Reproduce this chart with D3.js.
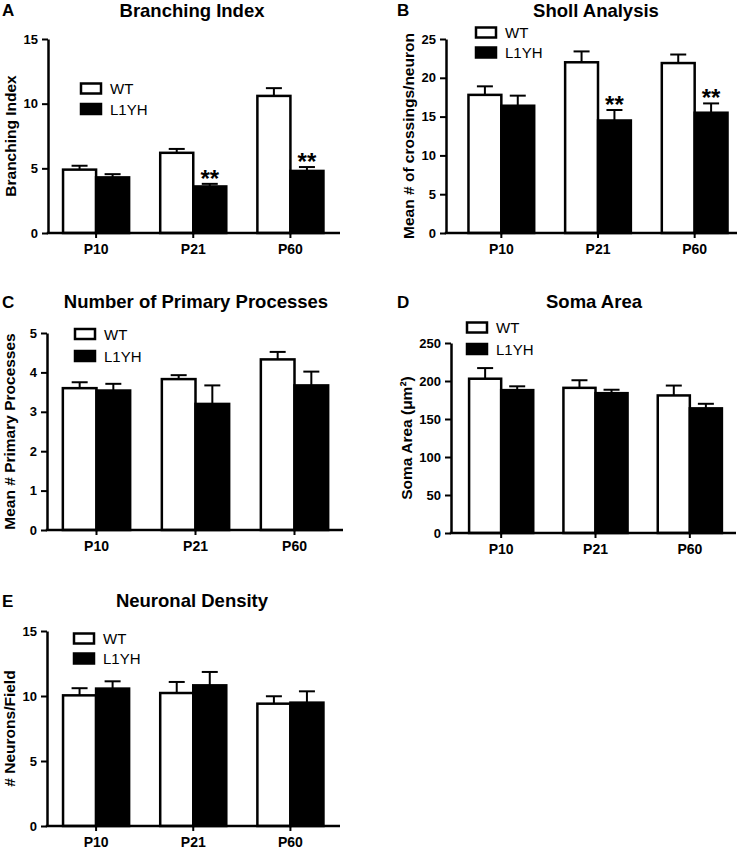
<!DOCTYPE html>
<html>
<head>
<meta charset="utf-8">
<script src="https://cdn.jsdelivr.net/npm/d3@7"></script>
<style>
body { margin: 0; background: #fff; }
text { font-family: "Liberation Sans", Arial, sans-serif; fill: #000; }
</style>
</head>
<body>
<div id="viz"></div>
<script>
// Data.
var ages = ["P10", "P21", "P60"];
var groups = ["WT", "L1YH"];

var branchWT = [4.9, 6.2, 10.6];
var branchWTErr = [0.3, 0.3, 0.6];
var branchYH = [4.3, 3.6, 4.8];
var branchYHErr = [0.25, 0.2, 0.3];
var branchStars = ["", "**", "**"];

var shollWT = [17.8, 22.0, 21.9];
var shollWTErr = [1.1, 1.4, 1.1];
var shollYH = [16.4, 14.5, 15.5];
var shollYHErr = [1.3, 1.35, 1.2];
var shollStars = ["", "**", "**"];

var primWT = [3.6, 3.83, 4.33];
var primWTErr = [0.15, 0.1, 0.19];
var primYH = [3.54, 3.2, 3.67];
var primYHErr = [0.17, 0.47, 0.35];

var somaWT = [203, 191, 181];
var somaWTErr = [14, 10, 13];
var somaYH = [188, 184, 164];
var somaYHErr = [5, 4.5, 6];

var densWT = [10.05, 10.23, 9.41];
var densWTErr = [0.55, 0.85, 0.57];
var densYH = [10.57, 10.82, 9.49];
var densYHErr = [0.56, 1.03, 0.87];

// Panel layout.
var panels = [
	{letter: "A", title: "Branching Index", ylabel: "Branching Index",
	 wt: branchWT, wtErr: branchWTErr, yh: branchYH, yhErr: branchYHErr, stars: branchStars,
	 max: 15, step: 5, ax: 48, axEnd: 340, band: [47.5, 339], top: 39, bottom: 233,
	 labelX: 16, titleX: 192, titleY: 17, letterX: 2, letterY: 16, legX: 81, legY: 88.5, legGap: 20.5},
	{letter: "B", title: "Sholl Analysis", ylabel: "Mean # of crossings/neuron",
	 wt: shollWT, wtErr: shollWTErr, yh: shollYH, yhErr: shollYHErr, stars: shollStars,
	 max: 25, step: 5, ax: 446, axEnd: 737, band: [453, 743], top: 39, bottom: 233,
	 labelX: 414, titleX: 596, titleY: 17, letterX: 397, letterY: 16, legX: 476, legY: 32.5, legGap: 20},
	{letter: "C", title: "Number of Primary Processes", ylabel: "Mean # Primary Processes",
	 wt: primWT, wtErr: primWTErr, yh: primYH, yhErr: primYHErr, stars: null,
	 max: 5, step: 1, ax: 47, axEnd: 343, band: [47, 344], top: 333, bottom: 530,
	 labelX: 15, titleX: 196, titleY: 308, letterX: 2, letterY: 308, legX: 75, legY: 334, legGap: 22},
	{letter: "D", title: "Soma Area", ylabel: "Soma Area (\u03bcm\u00b2)",
	 wt: somaWT, wtErr: somaWTErr, yh: somaYH, yhErr: somaYHErr, stars: null,
	 max: 250, step: 50, ax: 451, axEnd: 736, band: [454, 737], top: 343, bottom: 533,
	 labelX: 412, titleX: 594, titleY: 308, letterX: 397, letterY: 308, legX: 467, legY: 327.5, legGap: 21.5},
	{letter: "E", title: "Neuronal Density", ylabel: "# Neurons/Field",
	 wt: densWT, wtErr: densWTErr, yh: densYH, yhErr: densYHErr, stars: null,
	 max: 15, step: 5, ax: 47, axEnd: 340, band: [47.5, 339], top: 631, bottom: 826,
	 labelX: 15, titleX: 192, titleY: 607, letterX: 2, letterY: 607, legX: 74, legY: 638.5, legGap: 20}
];

var svg = d3.select("#viz")
	.append("svg")
	.attr("width", 746)
	.attr("height", 853);

panels.forEach(function (p) {
	var g = svg.append("g");

	var y = d3.scaleLinear().domain([0, p.max]).range([p.bottom, p.top]);
	var x = d3.scaleBand().domain(ages).range(p.band).paddingInner(0.32).paddingOuter(0.16);
	var xs = d3.scaleBand().domain(groups).range([0, x.bandwidth()]);

	var rows = [];
	ages.forEach(function (a, i) {
		rows.push({age: a, grp: "WT", v: p.wt[i], e: p.wtErr[i], star: ""});
		rows.push({age: a, grp: "L1YH", v: p.yh[i], e: p.yhErr[i], star: p.stars ? p.stars[i] : ""});
	});

	// Bars.
	g.selectAll("rect.bar").data(rows).enter().append("rect")
		.attr("x", function (d) { return x(d.age) + xs(d.grp); })
		.attr("y", function (d) { return y(d.v); })
		.attr("width", xs.bandwidth())
		.attr("height", function (d) { return p.bottom - y(d.v); })
		.style("fill", function (d) { return d.grp == "WT" ? "#fff" : "#000"; })
		.style("stroke", "#000")
		.style("stroke-width", 2.5);

	// Error bars (upper only).
	rows.forEach(function (d) {
		var cx = x(d.age) + xs(d.grp) + xs.bandwidth() / 2;
		g.append("line")
			.attr("x1", cx).attr("x2", cx)
			.attr("y1", y(d.v)).attr("y2", y(d.v + d.e))
			.style("stroke", "#000").style("stroke-width", 2);
		g.append("line")
			.attr("x1", cx - 8).attr("x2", cx + 8)
			.attr("y1", y(d.v + d.e)).attr("y2", y(d.v + d.e))
			.style("stroke", "#000").style("stroke-width", 2);
		if (d.star) {
			g.append("text")
				.attr("x", cx)
				.attr("y", y(d.v + d.e) + 3)
				.attr("text-anchor", "middle")
				.style("font-size", "24px")
				.style("font-weight", "bold")
				.text(d.star);
		}
	});

	// Y axis.
	var yAxis = g.append("g")
		.attr("transform", "translate(" + p.ax + ",0)")
		.call(d3.axisLeft(y)
			.tickValues(d3.range(0, p.max + 0.001, p.step))
			.tickFormat(d3.format("d"))
			.tickSize(6).tickPadding(4).tickSizeOuter(0));
	yAxis.select(".domain").style("stroke-width", 2.5);
	yAxis.selectAll(".tick line").style("stroke-width", 2);
	yAxis.selectAll("text").style("font-size", "13px").style("font-weight", "bold").style("font-family", "'Liberation Sans', Arial, sans-serif");

	// X axis.
	var xAxis = g.append("g")
		.attr("transform", "translate(0," + p.bottom + ")")
		.call(d3.axisBottom(x).tickSize(5).tickPadding(6).tickSizeOuter(0));
	xAxis.select(".domain").attr("d", "M" + (p.ax - 1.25) + ",0H" + p.axEnd).style("stroke-width", 2.5);
	xAxis.selectAll(".tick line").style("stroke-width", 2);
	xAxis.selectAll("text").style("font-size", "14px").style("font-weight", "bold").style("font-family", "'Liberation Sans', Arial, sans-serif");

	// Y label.
	g.append("text")
		.attr("transform", "translate(" + p.labelX + "," + ((p.top + p.bottom) / 2) + ") rotate(-90)")
		.attr("text-anchor", "middle")
		.style("font-size", "15.5px")
		.style("font-weight", "bold")
		.text(p.ylabel);

	// Title and panel letter.
	g.append("text")
		.attr("x", p.titleX).attr("y", p.titleY)
		.attr("text-anchor", "middle")
		.style("font-size", "18.5px")
		.style("font-weight", "bold")
		.text(p.title);
	g.append("text")
		.attr("x", p.letterX).attr("y", p.letterY)
		.style("font-size", "17px")
		.style("font-weight", "bold")
		.text(p.letter);

	// Legend.
	groups.forEach(function (s, i) {
		var ly = p.legY + i * p.legGap;
		g.append("rect")
			.attr("x", p.legX).attr("y", ly - 5)
			.attr("width", 20).attr("height", 10)
			.style("fill", s == "WT" ? "#fff" : "#000")
			.style("stroke", "#000")
			.style("stroke-width", 2.5);
		g.append("text")
			.attr("x", p.legX + 29).attr("y", ly + 5.5)
			.style("font-size", "15px")
			.text(s);
	});
});
</script>
</body>
</html>
